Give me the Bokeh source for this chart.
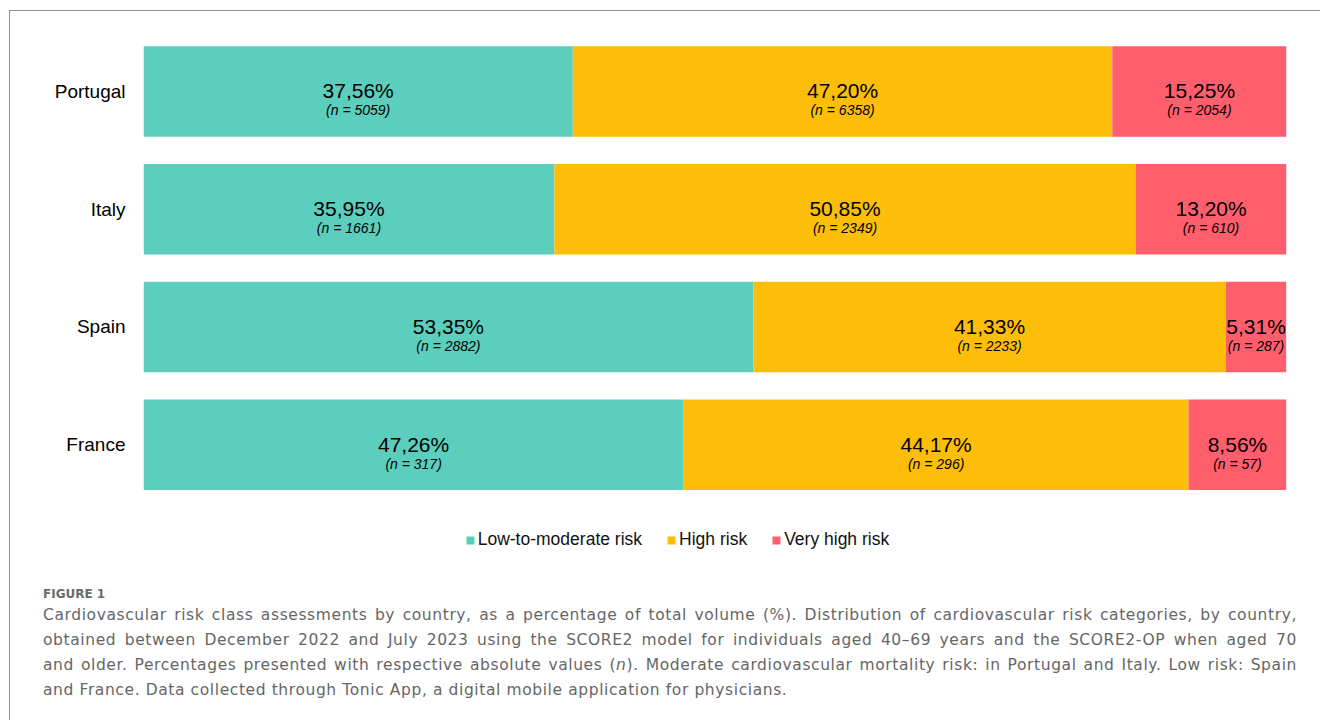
from bokeh.plotting import figure
from bokeh.models import ColumnDataSource, Range1d, Div, Legend, LegendItem, FixedTicker
from bokeh.layouts import column
from bokeh.core.properties import value
from bokeh.embed import file_html
from bokeh.resources import INLINE

# ---- data ----
countries = ["Portugal", "Italy", "Spain", "France"]
series_names = ["Low-to-moderate risk", "High risk", "Very high risk"]
pct_low = [37.56, 35.95, 53.35, 47.26]
pct_high = [47.20, 50.85, 41.33, 44.17]
pct_very = [15.25, 13.20, 5.31, 8.56]
n_low = [5059, 1661, 2882, 317]
n_high = [6358, 2349, 2233, 296]
n_very = [2054, 610, 287, 57]
colors = ["#5ccebd", "#fdbe09", "#ff5e6d"]

caption_title = "FIGURE 1"
caption_lines = [
    "Cardiovascular risk class assessments by country, as a percentage of total volume (%). Distribution of cardiovascular risk categories, by country,",
    "obtained between December 2022 and July 2023 using the SCORE2 model for individuals aged 40\u201369 years and the SCORE2-OP when aged 70",
    "and older. Percentages presented with respective absolute values (<i>n</i>). Moderate cardiovascular mortality risk: in Portugal and Italy. Low risk: Spain",
    "and France. Data collected through Tonic App, a digital mobile application for physicians.",
]

FONT = "Liberation Sans"
rows = list(range(len(countries)))  # row index of each country, top to bottom

p = figure(
    width=1310, height=566,
    y_range=Range1d(start=4.1274, end=-0.6794),
    x_range=Range1d(0, 100),
    output_backend="svg", toolbar_location=None,
    min_border_left=133, min_border_right=34, min_border_top=0, min_border_bottom=0,
    x_axis_location=None,
    outline_line_color=None,
    background_fill_color="white", border_fill_color="white",
)
p.xgrid.grid_line_color = None
p.ygrid.grid_line_color = None
ax = p.yaxis[0]
ax.ticker = FixedTicker(ticks=rows)
ax.major_label_overrides = {r: c for r, c in zip(rows, countries)}
ax.axis_line_color = None
ax.major_tick_line_color = None
ax.minor_tick_line_color = None
ax.major_tick_out = 0
ax.major_tick_in = 0
ax.major_label_standoff = 18
ax.major_label_text_font = FONT
ax.major_label_text_font_size = "19px"
ax.major_label_text_color = "#000000"

def fmt_pct(v):
    return f"{v:.2f}".replace(".", ",") + "%"

all_pct = [pct_low, pct_high, pct_very]
all_n = [n_low, n_high, n_very]
lefts = [0.0] * len(countries)
renderers = []
for name, pcts, ns, col in zip(series_names, all_pct, all_n, colors):
    rights = [l + v for l, v in zip(lefts, pcts)]
    src = ColumnDataSource(dict(
        row=rows,
        left=lefts,
        right=rights,
        mid=[(l + r) / 2 for l, r in zip(lefts, rights)],
        pct=[fmt_pct(v) for v in pcts],
        ntxt=[f"(n = {n})" for n in ns],
    ))
    r = p.hbar(y="row", left="left", right="right", height=0.767, source=src,
               fill_color=col, line_color=None)
    renderers.append(r)
    p.text(x="mid", y="row", text="pct", source=src, text_font=value(FONT),
           text_font_size="21px", text_align="center", text_baseline="alphabetic",
           y_offset=-0.5, text_color="#000000")
    p.text(x="mid", y="row", text="ntxt", source=src, text_font=value(FONT),
           text_font_size="14px", text_font_style="italic", text_align="center",
           text_baseline="alphabetic", y_offset=19, text_color="#000000")
    lefts = rights

legend = Legend(
    items=[LegendItem(label=n, renderers=[r]) for n, r in zip(series_names, renderers)],
    orientation="horizontal", location=(321.7, 27),
    glyph_width=10, glyph_height=10, label_standoff=3, spacing=24,
    padding=0, margin=0, border_line_color=None, background_fill_alpha=0,
    label_text_font=FONT, label_text_font_size="17.5px", label_text_color="#111111",
)
p.add_layout(legend, "center")

lines_html = ""
for i, ln in enumerate(caption_lines):
    last = "left" if i == len(caption_lines) - 1 else "justify"
    lines_html += (f'<div style="white-space:nowrap;text-align:justify;text-align-last:{last};'
                   f'height:25px;line-height:25px;">{ln}</div>')

html = (
    '<div style="position:relative;width:1310px;height:143px;'
    'font-family:\'DejaVu Sans\',sans-serif;color:#666666;">'
    f'<div style="position:absolute;left:33px;top:10.8px;font-size:12px;line-height:12px;'
    f'font-weight:bold;color:#6a6a6a;">{caption_title}</div>'
    '<div style="position:absolute;left:33px;top:26.3px;width:1254px;font-size:15.5px;'
    'letter-spacing:0.6px;">'
    + lines_html + '</div></div>'
)
cap = Div(text=html, width=1310, height=143, margin=0)

root = column(p, cap, styles={
    "margin-left": "9px", "margin-top": "10px",
    "border-top": "1px solid #8f8f8f", "border-left": "1px solid #8f8f8f",
})

with open("out.html", "w") as f:
    f.write(file_html(root, INLINE))
